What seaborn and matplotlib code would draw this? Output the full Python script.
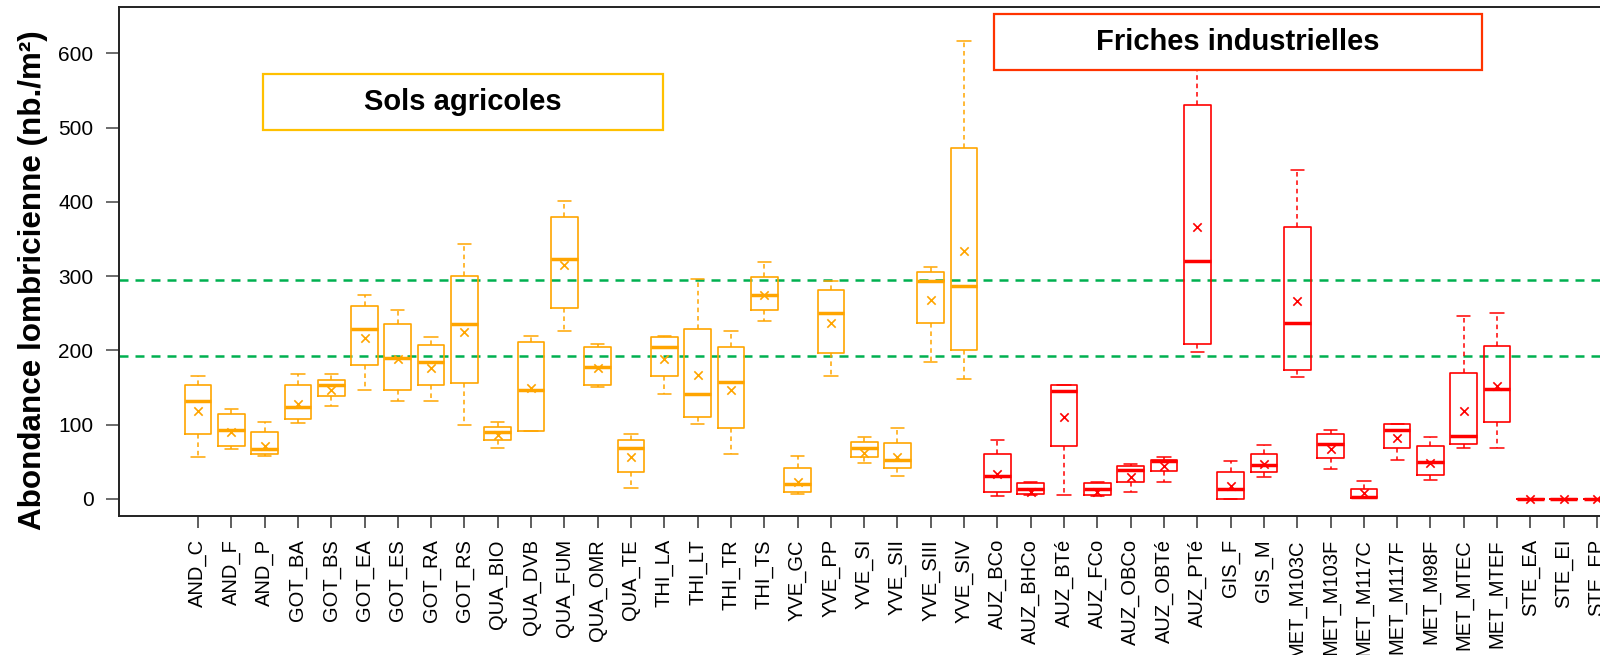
import numpy as np
import pandas as pd
import matplotlib
matplotlib.use("Agg")
import matplotlib.pyplot as plt
from matplotlib.patches import Rectangle
import seaborn as sns

# Sites (agricultural soils first, then industrial wastelands)
sites_agri = ["AND_C", "AND_F", "AND_P", "GOT_BA", "GOT_BS", "GOT_EA", "GOT_ES",
              "GOT_RA", "GOT_RS", "QUA_BIO", "QUA_DVB", "QUA_FUM", "QUA_OMR",
              "QUA_TE", "THI_LA", "THI_LT", "THI_TR", "THI_TS", "YVE_GC", "YVE_PP",
              "YVE_SI", "YVE_SII", "YVE_SIII", "YVE_SIV"]
sites_friche = ["AUZ_BCo", "AUZ_BHCo", "AUZ_BTé", "AUZ_FCo", "AUZ_OBCo", "AUZ_OBTé",
                "AUZ_PTé", "GIS_F", "GIS_M", "MET_M103C", "MET_M103F", "MET_M117C",
                "MET_M117F", "MET_M98F", "MET_MTEC", "MET_MTEF", "STE_EA", "STE_EI",
                "STE_EP"]

# Box statistics per site (earthworm abundance, ind./m²)
whisker_low = [56, 67, 58, 102, 125, 147, 132, 132, 100, 69, 91, 226, 151, 15, 141,
               101, 60, 239, 7, 166, 48, 31, 185, 161,
               4, 6, 5, 4, 9, 23, 198, 0, 29, 164, 40, 1, 53, 25, 68, 69, 0, 0, 0]
quart_1 = [88, 71, 60, 108, 139, 180, 147, 153, 156, 79, 91, 257, 153, 37, 166,
           111, 95, 254, 9, 196, 57, 42, 237, 201,
           9, 7, 71, 5, 23, 38, 209, 0, 36, 174, 55, 2, 69, 32, 74, 103, 0, 0, 0]
medians = [132, 93, 67, 124, 153, 229, 190, 184, 235, 90, 147, 323, 178, 68, 204,
           141, 158, 274, 20, 251, 68, 53, 294, 287,
           31, 14, 145, 14, 39, 51, 321, 14, 46, 237, 74, 3, 93, 50, 85, 148, 0, 0, 0]
quart_3 = [154, 115, 90, 153, 160, 260, 236, 207, 300, 97, 211, 380, 205, 80, 218,
           229, 204, 299, 42, 282, 77, 75, 306, 473,
           61, 21, 154, 21, 44, 53, 530, 37, 61, 366, 87, 14, 101, 71, 169, 206, 0, 0, 0]
whisker_high = [166, 121, 104, 168, 168, 275, 254, 218, 343, 104, 220, 401, 209, 87,
                220, 296, 226, 319, 58, 294, 84, 96, 312, 616,
                80, 23, 154, 23, 47, 56, 610, 51, 73, 443, 93, 24, 101, 84, 247, 250,
                0, 0, 0]
means = [119, 90, 71, 128, 147, 217, 189, 177, 225, 86, 149, 315, 176, 56, 189, 167,
         147, 274, 23, 237, 62, 56, 268, 334,
         34, 9, 110, 9, 30, 44, 366, 17, 47, 267, 67, 8, 82, 49, 119, 152, 0, 0, 0]

# Reference band
ref_low, ref_high = 193, 295

group_agri = "Sols agricoles"
group_friche = "Friches industrielles"

sites = sites_agri + sites_friche
groups = [group_agri] * len(sites_agri) + [group_friche] * len(sites_friche)

# Long table: five summary values per site reproduce each box exactly
rows = []
for s, g, a, b, c, d, e in zip(sites, groups, whisker_low, quart_1, medians,
                                quart_3, whisker_high):
    for v in (a, b, c, d, e):
        rows.append({"site": s, "groupe": g, "abondance": v})
df = pd.DataFrame(rows)
df_mean = pd.DataFrame({"site": sites, "groupe": groups, "moyenne": means})

palette = {group_agri: "#FFA500", group_friche: "#FF0000"}

sns.set_style("ticks")
plt.rcParams["font.family"] = ["Liberation Sans", "DejaVu Sans"]
plt.rcParams["text.color"] = "black"
plt.rcParams["xtick.color"] = "black"
plt.rcParams["ytick.color"] = "black"
plt.rcParams["axes.labelcolor"] = "black"

W, H = 1600, 655
fig = plt.figure(figsize=(W / 100, H / 100), dpi=100)
ax = fig.add_axes([119 / W, (H - 516) / H, 1528 / W, (516 - 7) / H])

sns.boxplot(data=df, x="site", y="abondance", hue="groupe", palette=palette,
            fill=False, dodge=False, width=0.8, whis=(0, 100), linewidth=1.2,
            medianprops={"linewidth": 2.5},
            whiskerprops={"linestyle": (0, (3, 2.5)), "linewidth": 1.1},
            capprops={"linestyle": "-", "linewidth": 1.1},
            legend=False, ax=ax)

sns.stripplot(data=df_mean, x="site", y="moyenne", hue="groupe", palette=palette,
              marker="x", jitter=False, dodge=False, size=6, linewidth=1.2,
              legend=False, ax=ax, zorder=4)

for yv in (ref_low, ref_high):
    ax.axhline(yv, color="#00B050", linestyle=(0, (3.6, 2.8)), linewidth=1.8,
               zorder=1)

ax.set_xlim(-2.37, 43.5)
ax.set_ylim(-22.9, 662.3)
ax.set_yticks(np.arange(0, 700, 100))
ax.set_xlabel("")
ax.set_ylabel("")
ax.tick_params(axis="x", labelrotation=90, labelsize=14.5, length=8.6, width=1.1,
               pad=8, color="#333333", labelcolor="black")
ax.tick_params(axis="y", labelsize=15, length=9.4, width=1.1, pad=9,
               color="#444444", labelcolor="black")
for sp in ax.spines.values():
    sp.set_color("#222222")
    sp.set_linewidth(1.4)

fig.text(33 / W, 1 - 280 / H, "Abondance lombricienne (nb./m²)", rotation=90,
         ha="center", va="center", fontsize=22.6, fontweight="bold",
         color="black")


def label_box(x0, y0, x1, y1, text, edge):
    fig.add_artist(Rectangle((x0 / W, 1 - y1 / H), (x1 - x0) / W, (y1 - y0) / H,
                             transform=fig.transFigure, facecolor="white",
                             edgecolor=edge, linewidth=1.6, zorder=5))
    fig.text((x0 + x1) / 2 / W, 1 - (y0 + y1) / 2 / H, text, ha="center",
             va="center", fontsize=21, fontweight="bold", color="black",
             zorder=6)


label_box(263, 74, 663, 130, group_agri, "#FFC000")
label_box(994, 14, 1482, 70, group_friche, "#FF3300")

fig.savefig("out.png", dpi=100)
